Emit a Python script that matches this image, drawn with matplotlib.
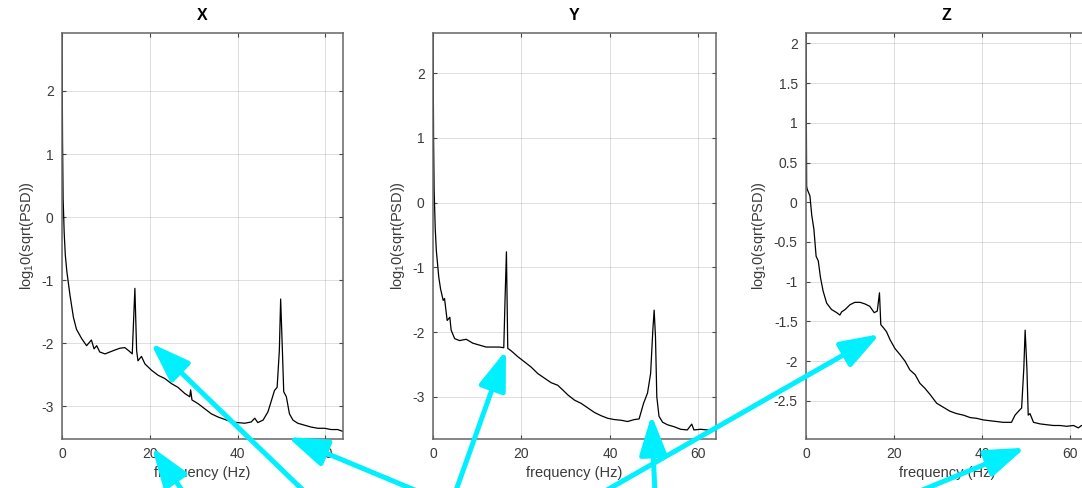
import matplotlib
matplotlib.use("Agg")
import matplotlib.pyplot as plt
from matplotlib.patches import ConnectionPatch

plt.rcParams['font.family'] = ['Liberation Sans', 'DejaVu Sans']
plt.rcParams['mathtext.default'] = 'regular'
plt.rcParams['axes.unicode_minus'] = False

# PSD values (Hz, log10(sqrt(PSD)))
freq_x = [0, 0.125, 0.25, 0.5, 0.75, 1.1, 1.8, 2.6, 3.3, 4.5, 5.6, 6.7, 7.3, 7.9, 8.6,
          9.8, 10.9, 12.0, 13.2, 14.3, 15.2, 16.0, 16.6, 17.0, 17.3, 18.1, 18.9, 20.4,
          21.9, 23.4, 24.9, 26.4, 28.0, 29.1, 29.3, 29.6, 31.0, 32.5, 34.0, 35.5, 37.1,
          38.6, 40.1, 41.6, 43.1, 43.9, 44.6, 45.8, 46.9, 47.7, 48.4, 49.0, 49.5, 49.8,
          50.2, 50.5, 51.1, 51.8, 52.6, 53.7, 55.2, 56.7, 58.3, 59.8, 61.3, 62.8, 64.0]
psd_x = [2.9, 1.2, 0.3, -0.25, -0.6, -0.86, -1.23, -1.59, -1.78, -1.93, -2.04, -1.95,
         -2.09, -2.04, -2.14, -2.17, -2.14, -2.11, -2.08, -2.07, -2.12, -2.17, -1.13,
         -2.12, -2.28, -2.21, -2.33, -2.43, -2.51, -2.56, -2.64, -2.70, -2.80, -2.85,
         -2.74, -2.90, -2.96, -3.04, -3.12, -3.17, -3.21, -3.25, -3.26, -3.27, -3.25,
         -3.19, -3.26, -3.22, -3.09, -2.91, -2.75, -2.70, -2.12, -1.30, -2.12, -2.77,
         -2.85, -3.12, -3.22, -3.27, -3.30, -3.33, -3.35, -3.35, -3.37, -3.37, -3.40]

freq_y = [0, 0.125, 0.25, 0.5, 0.75, 1.3, 1.7, 2.3, 2.6, 3.2, 3.8, 4.1, 4.9, 6.0, 7.5,
          9.0, 10.5, 12.0, 13.5, 15.0, 16.0, 16.3, 16.6, 16.9, 17.7, 19.2, 20.7, 22.2,
          23.7, 25.2, 26.7, 28.2, 29.3, 30.5, 32.0, 33.5, 35.0, 36.5, 38.0, 39.5, 41.0,
          42.5, 44.0, 45.5, 46.6, 47.6, 48.5, 49.2, 49.7, 50.0, 50.3, 50.6, 51.1, 51.9,
          53.0, 54.5, 56.0, 57.5, 58.5, 59.0, 60.5, 62.0, 64.0]
psd_y = [2.6, 1.0, 0.2, -0.4, -0.74, -1.15, -1.33, -1.51, -1.48, -1.82, -1.77, -1.97,
         -2.10, -2.13, -2.11, -2.17, -2.20, -2.23, -2.23, -2.23, -2.24, -1.46, -0.76,
         -2.25, -2.29, -2.38, -2.46, -2.54, -2.64, -2.71, -2.78, -2.82, -2.89, -2.97,
         -3.05, -3.10, -3.17, -3.24, -3.29, -3.33, -3.35, -3.36, -3.38, -3.35, -3.34,
         -3.10, -2.94, -2.64, -1.97, -1.66, -2.07, -3.00, -3.30, -3.39, -3.43, -3.46,
         -3.50, -3.51, -3.42, -3.51, -3.50, -3.51, -3.52]

freq_z = [0, 0.15, 0.3, 0.9, 1.3, 1.8, 2.3, 2.8, 3.3, 3.9, 4.7, 5.8, 7.0, 7.7, 8.1,
          8.9, 10.0, 11.1, 12.3, 13.4, 14.5, 15.5, 16.2, 16.7, 17.0, 17.6, 18.3, 19.1,
          20.2, 21.4, 22.5, 23.6, 24.8, 25.9, 27.0, 28.2, 29.7, 31.2, 32.7, 34.2, 35.8,
          37.3, 38.8, 40.3, 41.8, 43.3, 44.8, 46.7, 47.5, 48.3, 49.0, 49.5, 49.8, 50.2,
          50.5, 50.9, 51.7, 53.2, 54.7, 56.2, 57.7, 59.2, 60.8, 61.9, 62.6, 64.0]
psd_z = [2.13, 0.2, 0.16, 0.08, -0.16, -0.34, -0.68, -0.74, -0.95, -1.12, -1.27, -1.35,
         -1.39, -1.42, -1.38, -1.35, -1.29, -1.26, -1.26, -1.28, -1.31, -1.39, -1.37,
         -1.14, -1.54, -1.58, -1.63, -1.73, -1.84, -1.92, -2.00, -2.11, -2.17, -2.28,
         -2.34, -2.42, -2.53, -2.58, -2.63, -2.66, -2.68, -2.71, -2.72, -2.74, -2.75,
         -2.76, -2.77, -2.77, -2.68, -2.63, -2.59, -2.09, -1.61, -2.09, -2.68, -2.66,
         -2.77, -2.79, -2.80, -2.81, -2.81, -2.82, -2.81, -2.84, -2.81, -2.83]

titles = ['X', 'Y', 'Z']
ylims = [(-3.52, 2.92), (-3.65, 2.62), (-2.98, 2.13)]
yticks = [[-3, -2, -1, 0, 1, 2], [-3, -2, -1, 0, 1, 2],
          [-2.5, -2, -1.5, -1, -0.5, 0, 0.5, 1, 1.5, 2]]
ytick_labels = [['-3', '-2', '-1', '0', '1', '2'], ['-3', '-2', '-1', '0', '1', '2'],
                ['-2.5', '-2', '-1.5', '-1', '-0.5', '0', '0.5', '1', '1.5', '2']]
xticks = [0, 20, 40, 60]

# cyan arrows: panel index, tip (Hz, value), tail in figure fraction
arrow_panel = [0, 0, 0, 1, 1, 2, 2]
arrow_tip = [(20.2, -2.0), (20.5, -3.65), (51.4, -3.49), (16.5, -2.28),
             (49.4, -3.28), (16.8, -1.66), (49.8, -3.09)]
arrow_tail = [(0.299, -0.045), (0.181, -0.045), (0.4275, -0.045), (0.415, -0.045),
              (0.606, -0.045), (0.5287, -0.045), (0.8078, -0.045)]

fig = plt.figure(figsize=(10.82, 4.88), dpi=100)
positions = [[0.0573, 0.1004, 0.2597, 0.832],
             [0.4002, 0.1004, 0.2616, 0.832],
             [0.7449, 0.1004, 0.2603, 0.832]]

axes = []
data = [(freq_x, psd_x), (freq_y, psd_y), (freq_z, psd_z)]
for i, (f, p) in enumerate(data):
    ax = fig.add_axes(positions[i])
    ax.plot(f, p, color='black', lw=0.9)
    ax.set_xlim(0, 64)
    ax.set_ylim(*ylims[i])
    ax.set_xticks(xticks)
    ax.set_xticklabels([str(t) for t in xticks])
    ax.set_yticks(yticks[i])
    ax.set_yticklabels(ytick_labels[i])
    ax.grid(True, color='#262626', alpha=0.15, lw=0.7)
    ax.tick_params(direction='in', length=3, top=True, right=True,
                   labelsize=10, labelcolor='#3a3a3a', color='#444444', pad=6)
    for s in ax.spines.values():
        s.set_color('#666666')
        s.set_linewidth(1.1)
    ax.set_title(titles[i], fontsize=11.5, fontweight='bold', pad=9)
    ax.set_xlabel('frequency (Hz)', fontsize=10.5, color='#3a3a3a', labelpad=3)
    ax.set_ylabel('log$_1$0(sqrt(PSD))', fontsize=10.5, color='#3a3a3a', labelpad=4)
    axes.append(ax)

for k in range(len(arrow_tip)):
    con = ConnectionPatch(xyA=arrow_tail[k], coordsA=fig.transFigure,
                          xyB=arrow_tip[k], coordsB=axes[arrow_panel[k]].transData,
                          arrowstyle='-|>,head_length=1.2,head_width=0.42',
                          mutation_scale=20, lw=3.6, color='#00f0ff',
                          shrinkA=0, shrinkB=0, annotation_clip=False, zorder=10)
    fig.add_artist(con)

plt.savefig('out.png', dpi=100)
